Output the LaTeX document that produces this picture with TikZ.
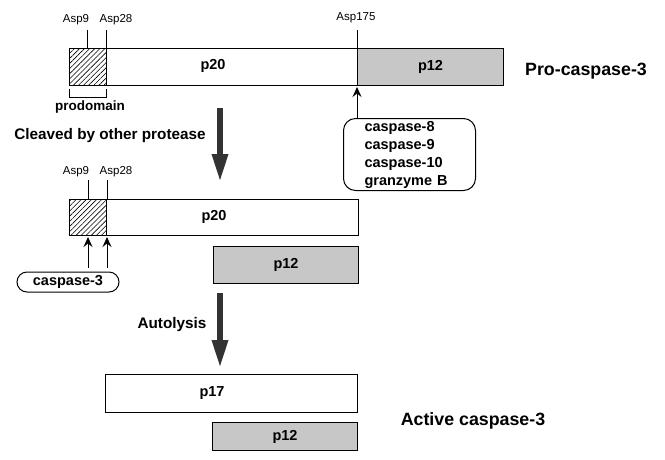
\documentclass[tikz,border=0pt]{standalone}
\usepackage{fontspec}
\setmainfont{Liberation Sans}
\usepackage{tikz}
\tikzset{>=latex}
\usetikzlibrary{patterns, patterns.meta, arrows.meta, shapes.misc}

\tikzset{
  seg/.style={draw, line width=1pt, inner sep=0pt, anchor=north west},
  prodom/.style={seg, pattern={Lines[angle=45, distance=3.6pt, line width=0.6pt]}},
  frag/.style={seg, fill=black!22},
  lbl/.style={inner sep=0pt, font=\bfseries\fontsize{14.5}{17}\selectfont},
  biglbl/.style={inner sep=0pt, font=\bfseries\fontsize{17.8}{20}\selectfont},
  sidelbl/.style={inner sep=0pt, font=\bfseries\fontsize{15.3}{18}\selectfont},
  asp/.style={inner sep=0pt, font=\fontsize{11.5}{13}\selectfont},
  bigarrow/.style={line width=6pt, black!80, -{Triangle[width=15pt, length=28pt]}},
  cutarrow/.style={line width=1pt, -{Stealth[length=10pt, width=9pt, inset=3.5pt]}},
}

\begin{document}
\begin{tikzpicture}[x=1pt, y=-1pt]
    \useasboundingbox (0,0) rectangle (665,459);

    % Pro-caspase-3
    \node[prodom, minimum width=37pt, minimum height=37pt] (pro1) at (69,48) {};
    \node[seg, minimum width=251pt, minimum height=37pt] (p20a) at (106,48) {};
    \node[frag, minimum width=146pt, minimum height=37pt] (p12a) at (357,48) {};
    \node[lbl] (t20a) at (213,66) {p20};
    \node[lbl] (t12a) at (p12a.center) {p12};
    \node[biglbl] (procas) at (586,71) {Pro-caspase-3};

    \node[asp] (a9a) at (76,20) {Asp9};
    \node[asp] (a28a) at (116,20) {Asp28};
    \node[asp] (a175) at (356,18) {Asp175};
    \foreach \c in {pro1.north, pro1.north east, p12a.north west}{
        \draw[line width=1pt] (\c) -- ++(0,-18);
    }

    % prodomain bracket
    \draw[line width=1pt] ([yshift=-3pt]pro1.south west) -- ++(0,9) -| ([yshift=-3pt]pro1.south east);
    \node[lbl, font=\bfseries\fontsize{13.5}{16}\selectfont] (prod) at (90,107) {prodomain};

    % initiator proteases
    \node[draw, line width=1pt, rounded corners=12pt, anchor=north west,
          minimum width=132pt, minimum height=72pt, text width=90pt, align=left,
          inner sep=0pt, font=\bfseries\fontsize{14.5}{18}\selectfont]
          (enz) at (343,118) {caspase-8\\caspase-9\\caspase-10\\granzyme B};
    \draw[cutarrow] (enz.north -| p12a.south west) -- ([yshift=-1pt]p12a.south west);

    % first cleavage
    \node[sidelbl] (cleave) at (110,136) {Cleaved by other protease};
    \coordinate (b1s) at (220,108);
    \coordinate (b1e) at (220,182);
    \draw[bigarrow] (b1s) -- (b1e);

    % Intermediate
    \node[prodom, minimum width=37pt, minimum height=36pt] (pro2) at (69,199) {};
    \node[seg, minimum width=252pt, minimum height=36pt] (p20b) at (106,199) {};
    \node[frag, minimum width=145pt, minimum height=37pt] (p12b) at (213,246) {};
    \node[lbl] (t20b) at (214,217) {p20};
    \node[lbl] (t12b) at (p12b.center) {p12};

    \node[asp] (a9b) at (76,172) {Asp9};
    \node[asp] (a28b) at (116,172) {Asp28};
    \foreach \c in {pro2.north, pro2.north east}{
        \draw[line width=1pt] (\c) -- ++(0,-19);
    }

    \node[draw, rounded rectangle, line width=1pt, minimum width=102pt, minimum height=20pt,
          inner sep=0pt, font=\bfseries\fontsize{14.5}{17}\selectfont] (cas3) at (68,282) {caspase-3};
    \coordinate (cas3top) at ([yshift=4pt]cas3.north);
    \foreach \c in {south, south east}{
        \draw[cutarrow] (cas3top -| pro2.\c) -- ([yshift=-1pt]pro2.\c);
    }

    % autolysis
    \node[sidelbl] (auto) at (172,325) {Autolysis};
    \coordinate (b2s) at (220,293);
    \coordinate (b2e) at (220,368);
    \draw[bigarrow] (b2s) -- (b2e);

    % Active caspase-3
    \node[seg, minimum width=252pt, minimum height=38pt] (p17) at (105,374) {};
    \node[frag, minimum width=145pt, minimum height=28pt] (p12c) at (212,422) {};
    \node[lbl] (t17) at (212,393) {p17};
    \node[lbl] (t12c) at (p12c.center) {p12};
    \node[biglbl] (active) at (473,421) {Active caspase-3};

\end{tikzpicture}
\end{document}
